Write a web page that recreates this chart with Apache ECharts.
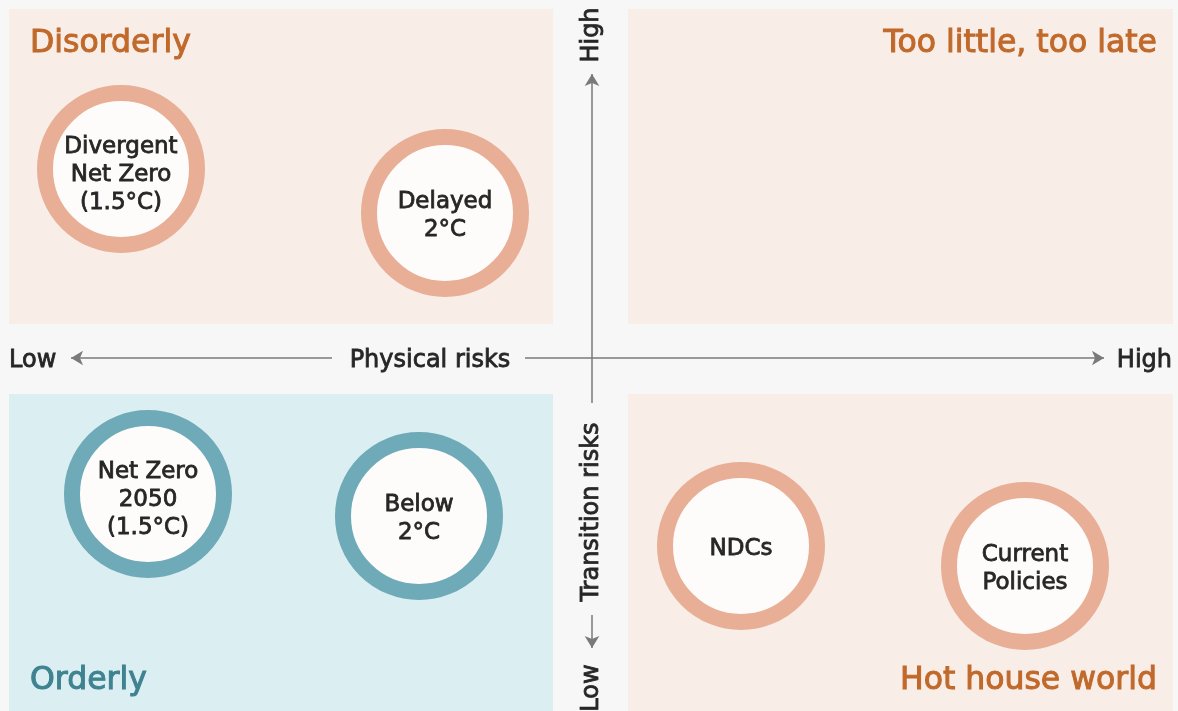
<!DOCTYPE html>
<html>
<head>
<meta charset="utf-8">
<script src="https://cdn.jsdelivr.net/npm/echarts@6/dist/echarts.min.js"></script>
<style>
  html, body { margin: 0; padding: 0; background: #f7f7f7; }
  #chart { width: 1178px; height: 711px; }
</style>
</head>
<body>
<div id="chart"></div>
<script>
// ---- Data ----
const scenarios = ['Divergent\nNet Zero\n(1.5°C)', 'Delayed\n2°C', 'Net Zero\n2050\n(1.5°C)', 'Below\n2°C', 'NDCs', 'Current\nPolicies'];
const physicalRisk = [121, 445, 148, 419, 741, 1025];     // position along physical-risk axis
const transitionRisk = [542, 498, 217, 195, 165, 145];    // position along transition-risk axis
const scenarioGroup = ['disorderly', 'disorderly', 'orderly', 'orderly', 'hothouse', 'hothouse'];
const quadrantNames = ['Disorderly', 'Too little, too late', 'Orderly', 'Hot house world'];
const axisLabels = { xLow: 'Low', xHigh: 'High', xName: 'Physical risks', yLow: 'Low', yHigh: 'High', yName: 'Transition risks' };

// ---- Styles ----
const FONT = '"DejaVu Sans", "Noto Sans", sans-serif';
const ringColor = { disorderly: '#e8af96', hothouse: '#e8af96', orderly: '#6eaab7' };
const peachFill = '#f9ede8';
const blueFill = '#dbeef1';
const titleOrange = '#c0692a';
const titleTeal = '#3f8290';
const axisGrey = '#7a7a7a';
const textDark = '#262626';

const points = scenarios.map((name, i) => {
  const lines = name.split('\n').length;
  return {
    name: name,
    value: [physicalRisk[i], transitionRisk[i]],
    itemStyle: { color: '#fdfcfb', borderColor: ringColor[scenarioGroup[i]], borderWidth: 16, opacity: 1 },
    label: { offset: [0, lines > 2 ? 6 : 3] }
  };
});

function txt(x, y, text, fill, size, align, rot, sw) {
  return {
    type: 'text', x: x, y: y, z: 100, rotation: rot || 0,
    style: {
      text: text, fill: fill, font: size + 'px ' + FONT,
      textAlign: align, textVerticalAlign: 'middle',
      stroke: fill, lineWidth: sw || 0.8
    }
  };
}

const chart = echarts.init(document.getElementById('chart'), null, { renderer: 'canvas' });

const option = {
  backgroundColor: '#f7f7f7',
  animation: false,
  grid: { left: 0, right: 0, top: 0, bottom: 0 },
  xAxis: { type: 'value', min: 0, max: 1178, show: false },
  yAxis: { type: 'value', min: 0, max: 711, show: false },
  series: [
    {
      name: 'quadrants',
      type: 'line',
      data: [],
      silent: true,
      markArea: {
        silent: true,
        label: { show: false },
        data: [
          [{ coord: [9, 387], itemStyle: { color: peachFill } }, { coord: [553, 702] }],
          [{ coord: [628, 387], itemStyle: { color: peachFill } }, { coord: [1173, 702] }],
          [{ coord: [9, 0], itemStyle: { color: blueFill } }, { coord: [553, 317] }],
          [{ coord: [628, 0], itemStyle: { color: peachFill } }, { coord: [1173, 317] }]
        ]
      },
      markLine: {
        silent: true,
        symbol: ['none', 'arrow'],
        symbolSize: [11, 12],
        label: { show: false },
        lineStyle: { color: axisGrey, width: 1.5, type: 'solid' },
        data: [
          [{ coord: [332, 353] }, { coord: [71, 353] }],
          [{ coord: [525, 353] }, { coord: [1104, 353] }],
          [{ coord: [592, 308] }, { coord: [592, 637] }],
          [{ coord: [592, 96] }, { coord: [592, 63] }]
        ]
      }
    },
    {
      name: 'scenarios',
      type: 'scatter',
      data: points,
      symbol: 'circle',
      symbolSize: 152,
      silent: true,
      itemStyle: { opacity: 1 },
      label: {
        show: true,
        position: 'inside',
        formatter: p => p.name,
        color: textDark,
        fontFamily: FONT,
        fontSize: 23,
        lineHeight: 28,
        align: 'center',
        textBorderColor: textDark,
        textBorderWidth: 0.8
      },
      z: 5
    }
  ],
  graphic: [
    txt(30, 44, quadrantNames[0], titleOrange, 31.5, 'left', 0, 1),
    txt(1157, 44, quadrantNames[1], titleOrange, 31.5, 'right', 0, 1),
    txt(30, 681, quadrantNames[2], titleTeal, 31.5, 'left', 0, 1),
    txt(1157, 681, quadrantNames[3], titleOrange, 31.5, 'right', 0, 1),

    txt(9, 361, axisLabels.xLow, textDark, 24, 'left'),
    txt(430, 361, axisLabels.xName, textDark, 24, 'center'),
    txt(1172, 361, axisLabels.xHigh, textDark, 24, 'right'),

    txt(592, 35, axisLabels.yHigh, textDark, 24, 'center', Math.PI / 2),
    txt(592, 512, axisLabels.yName, textDark, 24, 'center', Math.PI / 2),
    txt(592, 688, axisLabels.yLow, textDark, 24, 'center', Math.PI / 2)
  ]
};

chart.setOption(option);
</script>
</body>
</html>
